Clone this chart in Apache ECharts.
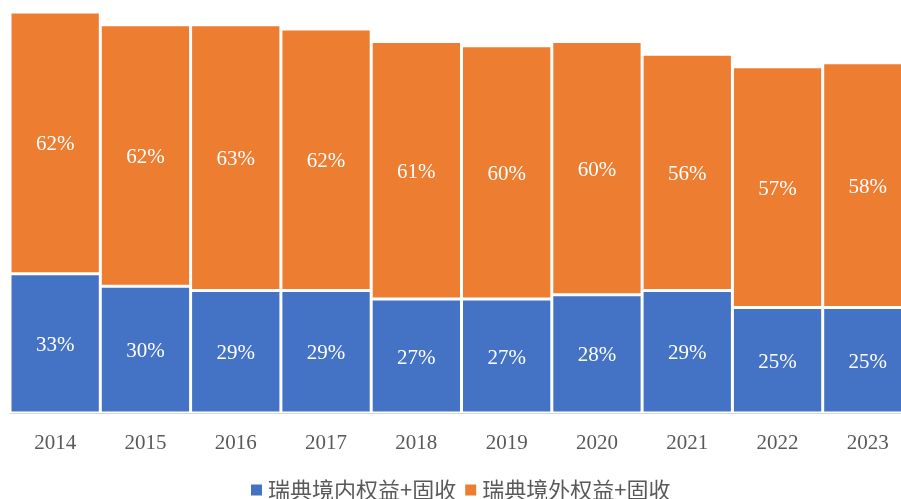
<!DOCTYPE html>
<html>
<head>
<meta charset="utf-8">
<script src="https://cdn.jsdelivr.net/npm/echarts@6/dist/echarts.min.js"></script>
<style>
  html, body { margin: 0; padding: 0; background: #fff; }
  #chart { width: 901px; height: 499px; }
</style>
</head>
<body>
<div id="chart"></div>
<script>
var years = ["2014", "2015", "2016", "2017", "2018", "2019", "2020", "2021", "2022", "2023"];
var domestic = [33, 30, 29, 29, 27, 27, 28, 29, 25, 25];
var foreign = [62, 62, 63, 62, 61, 60, 60, 56, 57, 58];
var seriesNames = ["瑞典境内权益+固收", "瑞典境外权益+固收"];

var myChart = echarts.init(document.getElementById("chart"));

var labelStyle = {
  show: true,
  position: "inside",
  offset: [0, 2],
  color: "#fff",
  fontFamily: "Liberation Serif",
  fontSize: 21,
  formatter: function (p) {
    return p.value + "%";
  }
};

var option = {
  animation: false,
  grid: {
    left: 10,
    width: 903,
    top: 12,
    bottom: 86,
    outerBoundsMode: "none"
  },
  legend: {
    data: seriesNames,
    bottom: -7,
    left: 244,
    icon: "rect",
    itemWidth: 13,
    itemHeight: 13,
    itemGap: 7,
    textStyle: {
      color: "#595959",
      fontSize: 22,
      fontFamily: "Noto Sans CJK SC"
    }
  },
  xAxis: {
    type: "category",
    data: years,
    axisLine: { lineStyle: { color: "#d9d9d9" } },
    axisTick: { show: false },
    axisLabel: {
      color: "#595959",
      fontFamily: "Liberation Serif",
      fontSize: 21,
      margin: 20
    }
  },
  yAxis: {
    type: "value",
    min: 0,
    max: 95,
    show: false,
    splitLine: { show: false }
  },
  series: [
    {
      name: seriesNames[0],
      type: "bar",
      stack: "total",
      data: domestic,
      barCategoryGap: "0%",
      itemStyle: { color: "#4472c4", borderColor: "#fff", borderWidth: 1.5 },
      label: labelStyle
    },
    {
      name: seriesNames[1],
      type: "bar",
      stack: "total",
      data: foreign,
      barCategoryGap: "0%",
      itemStyle: { color: "#ed7d31", borderColor: "#fff", borderWidth: 1.5 },
      label: labelStyle
    }
  ]
};

myChart.setOption(option);
</script>
</body>
</html>
